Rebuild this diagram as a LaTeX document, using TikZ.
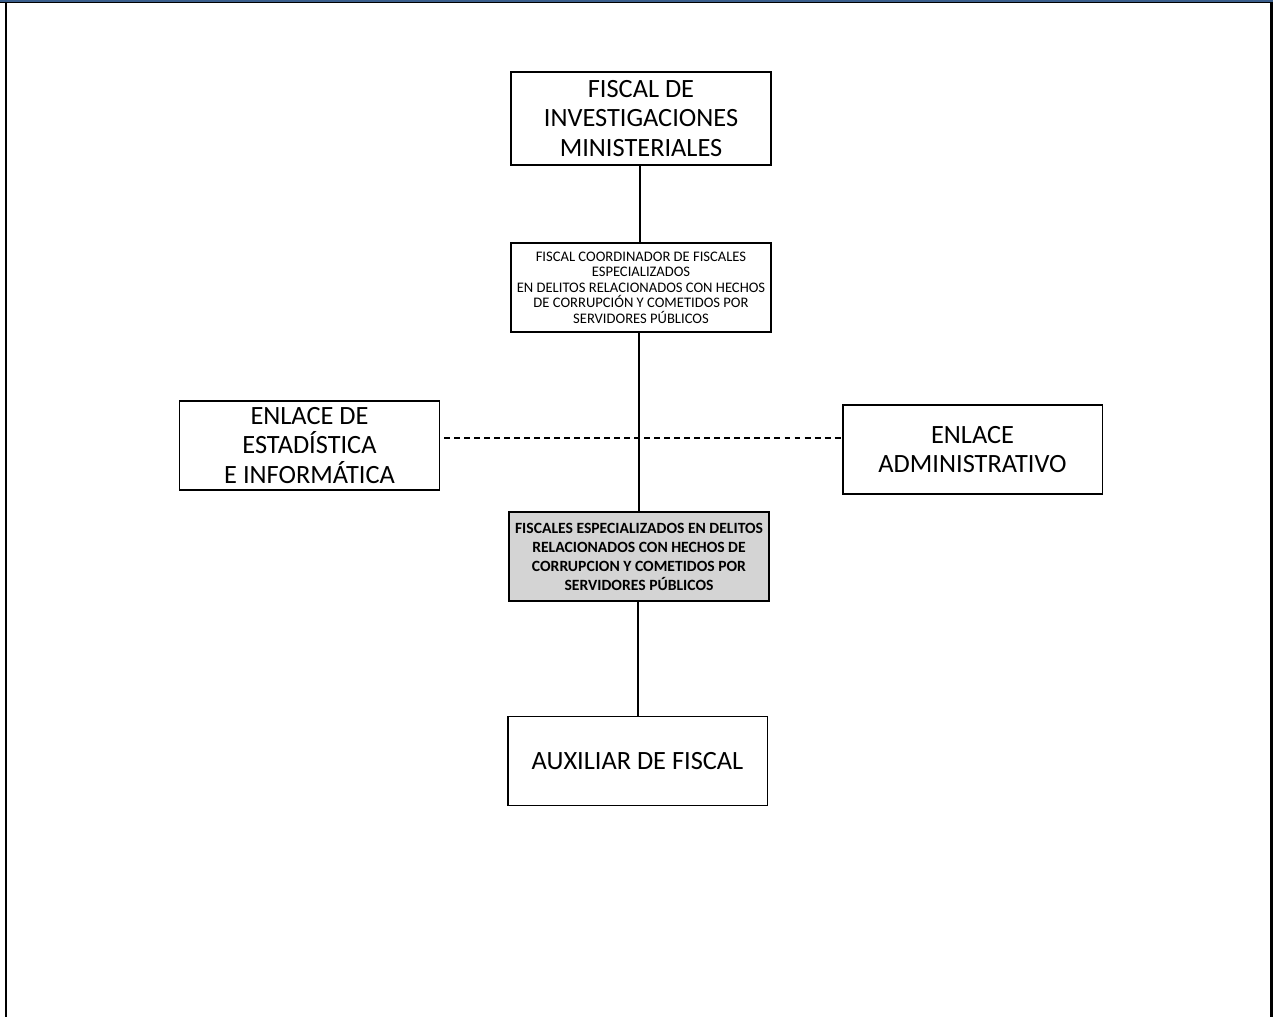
\documentclass[tikz,border=0pt]{standalone}
\usepackage{fontspec}
\setmainfont{Carlito}
\usetikzlibrary{positioning}
\definecolor{bandblue}{RGB}{58,94,140}

\begin{document}
\begin{tikzpicture}[x=0.02cm,y=-0.02cm]
				\tikzstyle{Box}		= [draw, line width=1.1pt, align=center, inner sep=2pt, minimum width=5.2cm, minimum height=1.78cm]
				\tikzstyle{Big}		= [Box, font=\fontsize{15}{16.6}\selectfont]
				\tikzstyle{Small}	= [Box, font=\fontsize{8.3}{8.8}\selectfont]
				\tikzstyle{Gray}	= [Box, fill=black!17, font=\bfseries\fontsize{8.9}{10.8}\selectfont]
				\tikzstyle{Link}	= [line width=1pt, black]
				\tikzstyle{Frame}	= [line width=1.7pt, black]

				\useasboundingbox (0,0) rectangle (1273,1017);
				% marco
				\draw [Frame] (6,3) -- (6,1017);
				\draw [Frame] (1271.5,3) -- (1271.5,1017);
				\draw [line width=0.8pt] (0,2.5) -- (1273,2.5);
				\fill [bandblue] (0,0) rectangle (1273,2);

				\node (fim) at (641,118.5) [Big, minimum height=1.86cm] {FISCAL DE\\INVESTIGACIONES\\MINISTERIALES};
				\node (coord) at (641,287.5) [Small] {FISCAL COORDINADOR DE FISCALES\\ESPECIALIZADOS\\EN DELITOS RELACIONADOS CON HECHOS\\DE CORRUPCIÓN Y COMETIDOS POR\\SERVIDORES PÚBLICOS};
				\node (est) at (309.5,445.5) [Big] {ENLACE DE\\ESTADÍSTICA\\E INFORMÁTICA};
				\node (adm) at (972.5,449.5) [Big] {ENLACE\\ADMINISTRATIVO};
				\node (fesp) at (639,556.5) [Gray] {FISCALES ESPECIALIZADOS EN DELITOS\\RELACIONADOS CON HECHOS DE\\CORRUPCION Y COMETIDOS POR\\SERVIDORES PÚBLICOS};
				\node (aux) at (637.5,761) [Big] {AUXILIAR DE FISCAL};

				\coordinate (dl) at (444,438);
				\coordinate (dr) at (adm.west |- dl);

				\draw [Link] (fim.south -| 640,0) to (coord.north -| 640,0);
				\draw [Link] (coord.south -| 639,0) to (fesp.north -| 639,0);
				\draw [Link] (fesp.south -| 638,0) to (aux.north -| 638,0);
				\draw [Link, dash pattern=on 3.4pt off 2.3pt] (dl) to (dr);
\end{tikzpicture}
\end{document}
